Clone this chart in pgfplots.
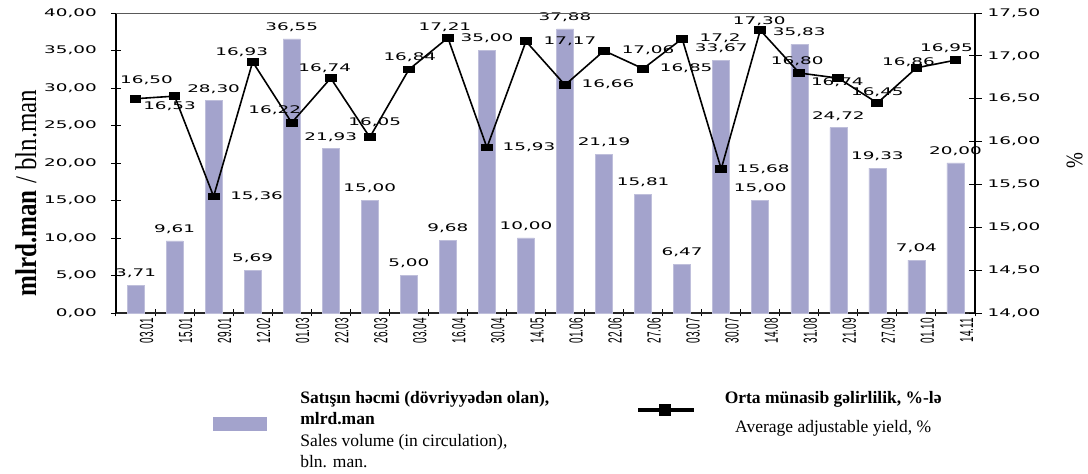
\documentclass[border=0pt]{standalone}
\usepackage{fontspec}
\setmainfont{Liberation Serif}
\newfontfamily\numfont[FakeStretch=1.75]{DejaVu Sans}
\newfontfamily\xfont{Liberation Sans}
\usepackage{graphicx}
\usepackage{pgfplots}
\usepackage{pgfplotstable}
\pgfplotsset{compat=1.18}
\definecolor{barc}{RGB}{163,163,204}
\newcommand\xl[1]{\scalebox{1}[1.9]{\xfont\fontsize{10}{10}\selectfont #1}}
\newcommand\numsize{\numfont\fontsize{10.5}{12}\selectfont}

% x, sales volume (bar), yield (line), label offsets of the yield labels
\pgfplotstableread{
x vol vlab yld ylab dx dy
0 3.71 3,71 16.50 16,50 11 18
1 9.61 9,61 16.53 16,53 -5 -10
2 28.30 28,30 15.36 15,36 43 0
3 5.69 5,69 16.93 16,93 -11 10
4 36.55 36,55 16.22 16,22 -17 12
5 21.93 21,93 16.74 16,74 -6 10
6 15.00 15,00 16.05 16,05 5 15
7 5.00 5,00 16.84 16,84 1 12
8 9.68 9,68 17.21 17,21 -3 11
9 35.00 35,00 15.93 15,93 42 0
10 10.00 10,00 17.17 17,17 44 0
11 37.88 37,88 16.66 16,66 43 1
12 21.19 21,19 17.06 17,06 44 0
13 15.81 15,81 16.85 16,85 43 0
14 6.47 6,47 17.20 17,2 38 0
15 33.67 33,67 15.68 15,68 42 0
16 15.00 15,00 17.30 17,30 -1 9
17 35.83 35,83 16.80 16,80 -2 12
18 24.72 24,72 16.74 16,74 -1 -4
19 19.33 19,33 16.45 16,45 0 11
20 7.04 7,04 16.86 16,86 -8 6
21 20.00 20,00 16.95 16,95 -9 12
}\data

\pgfplotsset{
  numticks/.style={
    y tick label style={/pgf/number format/fixed,
      /pgf/number format/fixed zerofill,
      /pgf/number format/precision=2,
      /pgf/number format/use comma,
      /pgf/number format/assume math mode=true,
      font=\numsize},
  },
}

\begin{document}
\begin{tikzpicture}
\useasboundingbox (0,0) rectangle (1088pt,474pt);

\begin{axis}[
  at={(116pt,161pt)}, anchor=south west,
  width=859pt, height=300pt, scale only axis,
  xmin=-0.5, xmax=21.5, ymin=0, ymax=40,
  axis x line*=bottom, axis y line*=left,
  x axis line style={-, line width=1.2pt, black!85},
  y axis line style={-, line width=1.8pt},
  xtick={0,...,21},
  xticklabels={\xl{03.01},\xl{15.01},\xl{29.01},\xl{12.02},\xl{01.03},\xl{22.03},\xl{26.03},\xl{03.04},\xl{16.04},\xl{30.04},\xl{14.05},\xl{01.06},\xl{22.06},\xl{27.06},\xl{03.07},\xl{30.07},\xl{14.08},\xl{31.08},\xl{21.09},\xl{27.09},\xl{01.10},\xl{14.11}},
  xticklabel style={rotate=90, anchor=east, inner sep=0pt, yshift=-11pt},
  major x tick style={draw=none},
  minor xtick={-0.5,0.5,...,21.5},
  minor tick length=7pt,
  minor x tick style={line width=1pt, black},
  ytick={0,5,...,40},
  tick align=center, major tick length=10pt,
  major y tick style={line width=0.8pt, black},
  numticks,
  yticklabel style={inner sep=0pt, xshift=-14pt},
  ylabel={\scalebox{1}[1.2]{\fontsize{25}{25}\selectfont\textbf{mlrd.man} / bln.man}},
  ylabel style={at={(axis description cs:-0.105,0.40)}, anchor=center},
  clip=false,
  legend style={at={(axis description cs:0.1129,-0.25)}, anchor=north west,
    draw=none, fill=none, inner sep=0pt, outer sep=0pt,
    font=\fontsize{17.5}{21.5}\selectfont,
    nodes={inner sep=0pt, anchor=base west},
    /tikz/column 1/.style={column sep=34pt},
    /tikz/column 2/.style={column sep=87pt},
    /tikz/column 3/.style={column sep=29pt}},
  legend columns=2,
]
\addplot[ybar, bar width=17pt, fill=barc, draw=barc!70!white, line width=0.6pt,
  forget plot,
  point meta=explicit symbolic,
  nodes near coords,
  every node near coord/.append style={font=\numsize, anchor=south, inner sep=0pt, yshift=7pt}]
  table[x=x, y=vol, meta=vlab]{\data};

\addlegendimage{legend image code/.code={\fill[barc] (0pt,-14pt) rectangle (53pt,-27pt);}}
\addlegendentry{\begin{tabular}[t]{@{}l@{}}\textbf{Satışın həcmi (dövriyyədən olan),}\\\textbf{mlrd.man}\\Sales volume (in circulation),\\bln. man.\end{tabular}}
\addlegendimage{legend image code/.code={\draw[line width=3.5pt] (0pt,-7pt) -- (56pt,-7pt);
  \fill (21pt,-1.5pt) rectangle (32pt,-12.5pt);}}
\addlegendentry{\begin{tabular}[t]{@{}c@{}}\textbf{Orta münasib gəlirlilik, \%-lə}\\[8pt]Average adjustable yield, \%\end{tabular}}
\end{axis}

\begin{axis}[
  at={(116pt,161pt)}, anchor=south west,
  width=859pt, height=300pt, scale only axis,
  xmin=-0.5, xmax=21.5, ymin=14, ymax=17.5,
  axis x line*=top, axis y line*=right,
  x axis line style={-, line width=0.8pt, black!65},
  y axis line style={-, line width=1.8pt},
  xtick=\empty,
  ytick={14,14.5,...,17.5},
  tick align=center, major tick length=13pt,
  major y tick style={line width=0.8pt, black},
  numticks,
  yticklabel style={inner sep=0pt, xshift=6pt},
  ylabel={\scalebox{1}[1.25]{\fontsize{19}{19}\selectfont\%}},
  ylabel style={at={(axis description cs:1.116,0.507)}, anchor=center},
  clip=false,
]
\addplot[black, line width=1.6pt, mark=square*, mark size=3pt,
  mark options={xscale=1.7, solid},
  point meta=explicit symbolic,
  visualization depends on={\thisrow{dx}\as\dx},
  visualization depends on={\thisrow{dy}\as\dy},
  nodes near coords,
  every node near coord/.append style={font=\numsize, anchor=center, inner sep=0pt,
    xshift=\dx pt, yshift=\dy pt}]
  table[x=x, y=yld, meta=ylab]{\data};
\end{axis}
\end{tikzpicture}
\end{document}
